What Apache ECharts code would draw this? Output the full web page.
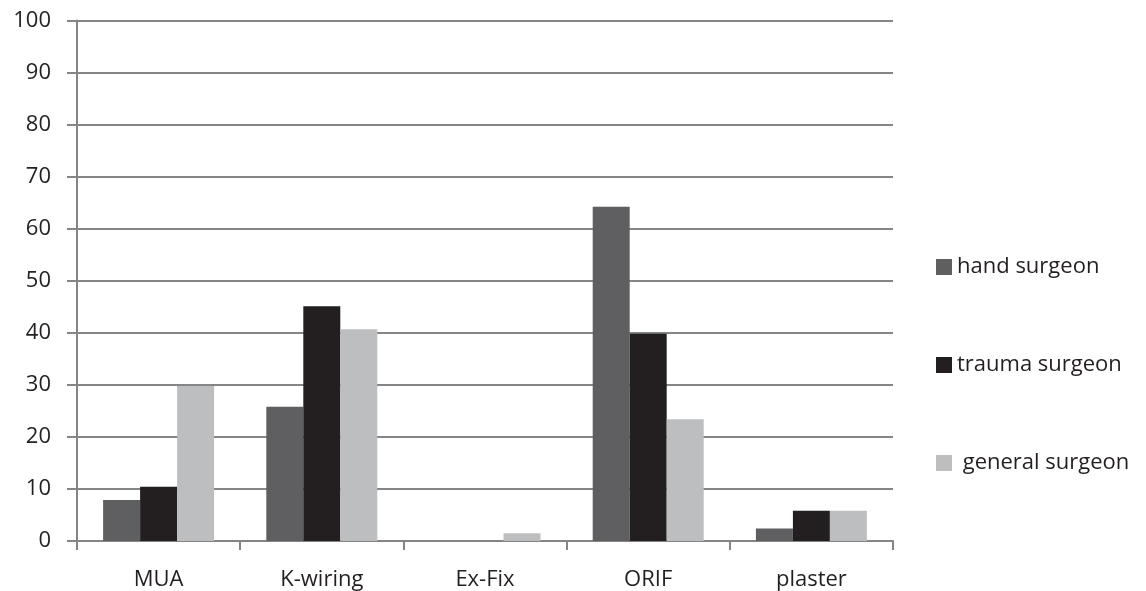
<!DOCTYPE html>
<html>
<head>
<meta charset="utf-8">
<script src="https://cdn.jsdelivr.net/npm/echarts@6/dist/echarts.min.js"></script>
<style>html,body{margin:0;padding:0;background:#fff}#c{width:1146px;height:591px}</style>
</head>
<body>
<div id="c"></div>
<script>
const categories = ['MUA', 'K-wiring', 'Ex-Fix', 'ORIF', 'plaster'];
const handSurgeon = [7.9, 25.8, 0, 64.2, 2.4];
const traumaSurgeon = [10.4, 45.1, 0, 39.8, 5.8];
const generalSurgeon = [29.8, 40.7, 1.5, 23.4, 5.8];
const seriesNames = ['hand surgeon', 'trauma surgeon', 'general surgeon'];
const seriesColors = ['#5f5f62', '#231f20', '#bdbec0'];

const chart = echarts.init(document.getElementById('c'), null, {renderer: 'canvas'});
const font = '"Open Sans", Lato, sans-serif';
const data = [handSurgeon, traumaSurgeon, generalSurgeon];
chart.setOption({
  animation: false,
  backgroundColor: '#fff',
  grid: {left: 77, right: 253, top: 20.5, bottom: 50, containLabel: false},
  legend: {
    orient: 'vertical', left: 931, top: 251, itemWidth: 16, itemHeight: 16, itemGap: 76,
    icon: 'rect',
    formatter: function (n) { return n === 'general surgeon' ? ' ' + n : n; },
    textStyle: {fontFamily: font, fontSize: 22, color: '#231f20', lineHeight: 22, padding: [0, 0, 0, 0]},
    data: seriesNames
  },
  xAxis: {
    type: 'category', data: categories,
    axisLine: {lineStyle: {color: '#858585', width: 2}},
    axisTick: {show: true, length: 9, lineStyle: {color: '#858585', width: 2}},
    axisLabel: {fontFamily: font, fontSize: 22, color: '#231f20', margin: 28}
  },
  yAxis: {
    type: 'value', min: 0, max: 100, interval: 10,
    axisLine: {show: true, lineStyle: {color: '#858585', width: 2}},
    axisTick: {show: true, length: 10, lineStyle: {color: '#858585', width: 2}},
    splitLine: {lineStyle: {color: '#858585', width: 2}},
    axisLabel: {fontFamily: font, fontSize: 22, color: '#231f20', margin: 26}
  },
  series: seriesNames.map((n, i) => ({
    name: n, type: 'bar', data: data[i],
    barGap: '0%', barCategoryGap: '32%',
    itemStyle: {color: seriesColors[i]}
  }))
});
</script>
</body>
</html>
